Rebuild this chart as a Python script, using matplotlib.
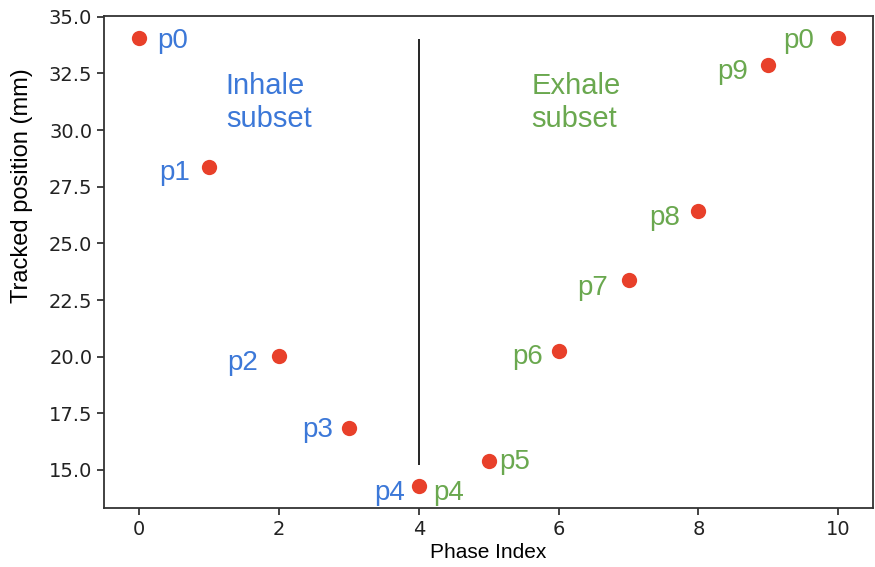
import numpy as np
import matplotlib.pyplot as plt

# tracked position per phase (mm)
phase = [0, 1, 2, 3, 4, 5, 6, 7, 8, 9, 10]
position = [34.05, 28.38, 20.03, 16.85, 14.3, 15.4, 20.25, 23.4, 26.44, 32.88, 34.07]

inhale_labels = ['p0', 'p1', 'p2', 'p3', 'p4']
exhale_labels = ['p4', 'p5', 'p6', 'p7', 'p8', 'p9', 'p0']

blue = '#3c78d8'
green = '#6aa84f'
red = '#e8402a'

plt.rcParams['font.family'] = ['DejaVu Sans']

fig = plt.figure(figsize=(8.75, 5.67), dpi=100)
ax = fig.add_axes([0.119, 0.104, 0.879, 0.868])

ax.plot(phase, position, 'o', color=red, markersize=11, markeredgewidth=0, zorder=3)

# split line between inhale and exhale
ax.vlines(phase[4], 15.2, position[0] - 0.05, color='black', linewidth=1.2)

# label offsets in pixels (dx, dy), ha
inhale_off = [(18, -3, 'left'), (-19, -6, 'right'), (-21, -7, 'right'),
              (-16, -2, 'right'), (-14, -7, 'right')]
exhale_off = [(14, -7, 'left'), (11, -1, 'left'), (-16, -6, 'right'),
              (-21, -8, 'right'), (-18, -7, 'right'), (-20, -7, 'right'),
              (-24, -3, 'right')]

lab_font = dict(family=['Liberation Sans'], fontsize=20)
for i, lab in enumerate(inhale_labels):
    dx, dy, ha = inhale_off[i]
    ax.annotate(lab, (phase[i], position[i]), xytext=(dx, dy),
                textcoords='offset pixels', ha=ha, va='center',
                color=blue, **lab_font)
for j, lab in enumerate(exhale_labels):
    i = j + 4
    dx, dy, ha = exhale_off[j]
    ax.annotate(lab, (phase[i], position[i]), xytext=(dx, dy),
                textcoords='offset pixels', ha=ha, va='center',
                color=green, **lab_font)

ax.text(1.24, 32.55, 'Inhale\nsubset', color=blue, ha='left', va='top',
        family=['Liberation Sans'], fontsize=21, linespacing=1.2)
ax.text(5.61, 32.55, 'Exhale\nsubset', color=green, ha='left', va='top',
        family=['Liberation Sans'], fontsize=21, linespacing=1.2)

ax.set_xlim(-0.5, 10.5)
ax.set_ylim(13.32, 35.04)
ax.set_xticks([0, 2, 4, 6, 8, 10])
ax.set_yticks([15.0, 17.5, 20.0, 22.5, 25.0, 27.5, 30.0, 32.5, 35.0])
ax.set_yticklabels(['15.0', '17.5', '20.0', '22.5', '25.0', '27.5', '30.0', '32.5', '35.0'])
ax.tick_params(labelsize=14, length=5, width=1.2, colors='#222222')
for s in ax.spines.values():
    s.set_linewidth(1.3)
    s.set_color('#333333')

ax.set_xlabel('Phase Index', family=['Liberation Sans'], fontsize=15, labelpad=3)
ax.set_ylabel('Tracked position (mm)', family=['Liberation Sans'], fontsize=17)
ax.yaxis.set_label_coords(-0.093, 0.655)

fig.savefig('out.png', dpi=100)
